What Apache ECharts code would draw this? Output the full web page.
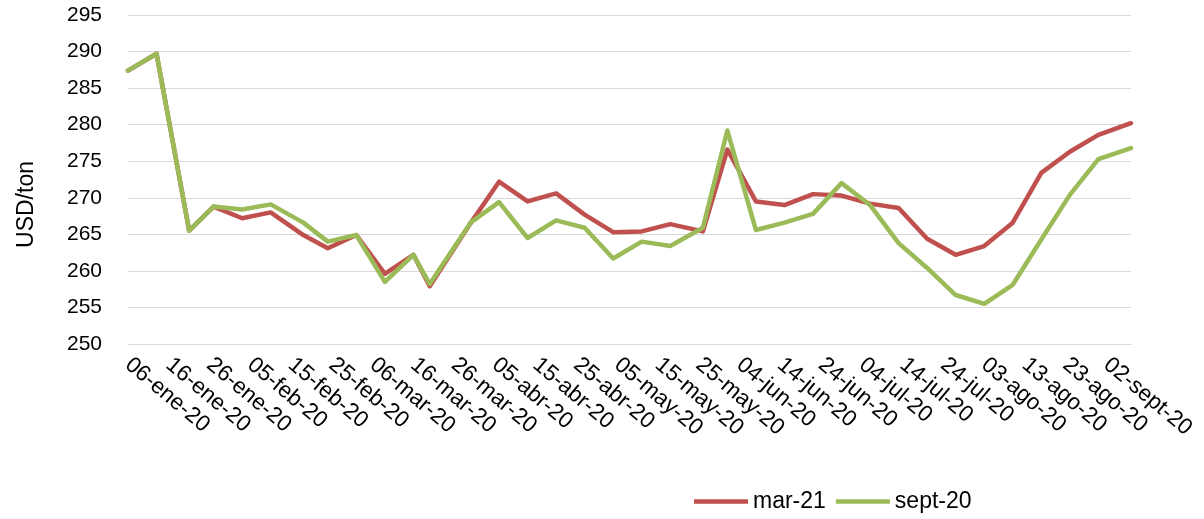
<!DOCTYPE html>
<html>
<head>
<meta charset="utf-8">
<script src="https://cdn.jsdelivr.net/npm/echarts@6/dist/echarts.min.js"></script>
<style>
  html, body { margin: 0; padding: 0; background: #ffffff; }
  #chart { width: 1204px; height: 519px; }
</style>
</head>
<body>
<div id="chart"></div>
<script>
// Weekly observation dates (ISO) and prices in USD/ton for each contract
const dates = [
  '2020-01-06', '2020-01-13', '2020-01-21', '2020-01-27', '2020-02-03', '2020-02-10',
  '2020-02-18', '2020-02-24', '2020-03-02', '2020-03-09', '2020-03-16', '2020-03-20',
  '2020-03-30', '2020-04-06', '2020-04-13', '2020-04-20', '2020-04-27', '2020-05-04',
  '2020-05-11', '2020-05-18', '2020-05-26', '2020-06-01', '2020-06-08', '2020-06-15',
  '2020-06-22', '2020-06-29', '2020-07-06', '2020-07-13', '2020-07-20', '2020-07-27',
  '2020-08-03', '2020-08-10', '2020-08-17', '2020-08-24', '2020-08-31', '2020-09-08'
];
const mar21 = [
  287.4, 289.7, 265.5, 268.8, 267.2, 268.0,
  264.9, 263.1, 264.9, 259.6, 262.2, 257.9,
  266.5, 272.2, 269.5, 270.6, 267.7, 265.3,
  265.4, 266.4, 265.4, 276.6, 269.5, 269.0,
  270.5, 270.3, 269.2, 268.6, 264.4, 262.2,
  263.4, 266.6, 273.4, 276.3, 278.6, 280.2
];
const sept20 = [
  287.4, 289.7, 265.5, 268.8, 268.4, 269.1,
  266.6, 264.0, 264.9, 258.5, 262.2, 258.2,
  266.6, 269.4, 264.5, 266.9, 265.9, 261.7,
  264.0, 263.4, 265.9, 279.2, 265.6, 266.6,
  267.8, 272.0, 269.0, 263.8, 260.4, 256.7,
  255.5, 258.1, 264.3, 270.4, 275.3, 276.8
];
const seriesNames = ['mar-21', 'sept-20'];

// Axis settings: date axis from first to last observation, labelled every 10 days
const axisStart = dates[0];
const axisEnd = dates[dates.length - 1];
const xTickDays = 10;
const yMin = 250, yMax = 295, yStep = 5;
const monthNames = ['ene', 'feb', 'mar', 'abr', 'may', 'jun', 'jul', 'ago', 'sept', 'oct', 'nov', 'dic'];

const DAY_MS = 86400000;
function isoToMs(iso) {
  const p = iso.split('-').map(Number);
  return Date.UTC(p[0], p[1] - 1, p[2]);
}
const startMs = isoToMs(axisStart);
function dayOffset(iso) { return Math.round((isoToMs(iso) - startMs) / DAY_MS); }
function dayLabel(day) {
  if (day % xTickDays !== 0) return '';
  const d = new Date(startMs + day * DAY_MS);
  const dd = String(d.getUTCDate()).padStart(2, '0');
  return dd + '-' + monthNames[d.getUTCMonth()] + '-' + String(d.getUTCFullYear()).slice(2);
}

const toPoints = values => dates.map((d, i) => [dayOffset(d), values[i]]);

const FONT = 'Liberation Sans, Arial, sans-serif';
const chart = echarts.init(document.getElementById('chart'), null, { renderer: 'canvas' });

chart.setOption({
  animation: false,
  backgroundColor: '#ffffff',
  grid: { left: 128, right: 73, top: 15, bottom: 175, containLabel: false, outerBoundsMode: 'none' },
  legend: {
    left: 689,
    top: 485,
    icon: 'rect',
    itemWidth: 54,
    itemHeight: 4.5,
    itemGap: 10,
    textStyle: { fontFamily: FONT, fontSize: 23, color: '#000000' },
    data: seriesNames
  },
  xAxis: {
    type: 'value',
    min: 0,
    max: dayOffset(axisEnd),
    interval: xTickDays,
    axisLine: { show: true, lineStyle: { color: '#D9D9D9', width: 1 } },
    axisTick: { show: false },
    splitLine: { show: false },
    axisLabel: {
      rotate: -40,
      margin: 18,
      showMinLabel: true,
      showMaxLabel: false,
      hideOverlap: false,
      fontFamily: FONT,
      fontSize: 22.5,
      color: '#000000',
      formatter: v => dayLabel(v)
    }
  },
  yAxis: {
    type: 'value',
    min: yMin,
    max: yMax,
    interval: yStep,
    name: 'USD/ton',
    nameLocation: 'middle',
    nameGap: 90,
    nameTextStyle: { fontFamily: FONT, fontSize: 23, color: '#000000', padding: [0, 50, 0, 0] },
    axisLine: { show: false },
    axisTick: { show: false },
    splitLine: { show: true, lineStyle: { color: '#D9D9D9', width: 1 } },
    axisLabel: { margin: 26, fontFamily: FONT, fontSize: 21, color: '#000000' }
  },
  series: [
    {
      name: seriesNames[0],
      type: 'line',
      data: toPoints(mar21),
      symbol: 'none',
      lineStyle: { color: '#C0504D', width: 4.5, join: 'round', cap: 'round' },
      itemStyle: { color: '#C0504D' }
    },
    {
      name: seriesNames[1],
      type: 'line',
      data: toPoints(sept20),
      symbol: 'none',
      lineStyle: { color: '#9BBB59', width: 4.5, join: 'round', cap: 'round' },
      itemStyle: { color: '#9BBB59' }
    }
  ]
});
</script>
</body>
</html>
